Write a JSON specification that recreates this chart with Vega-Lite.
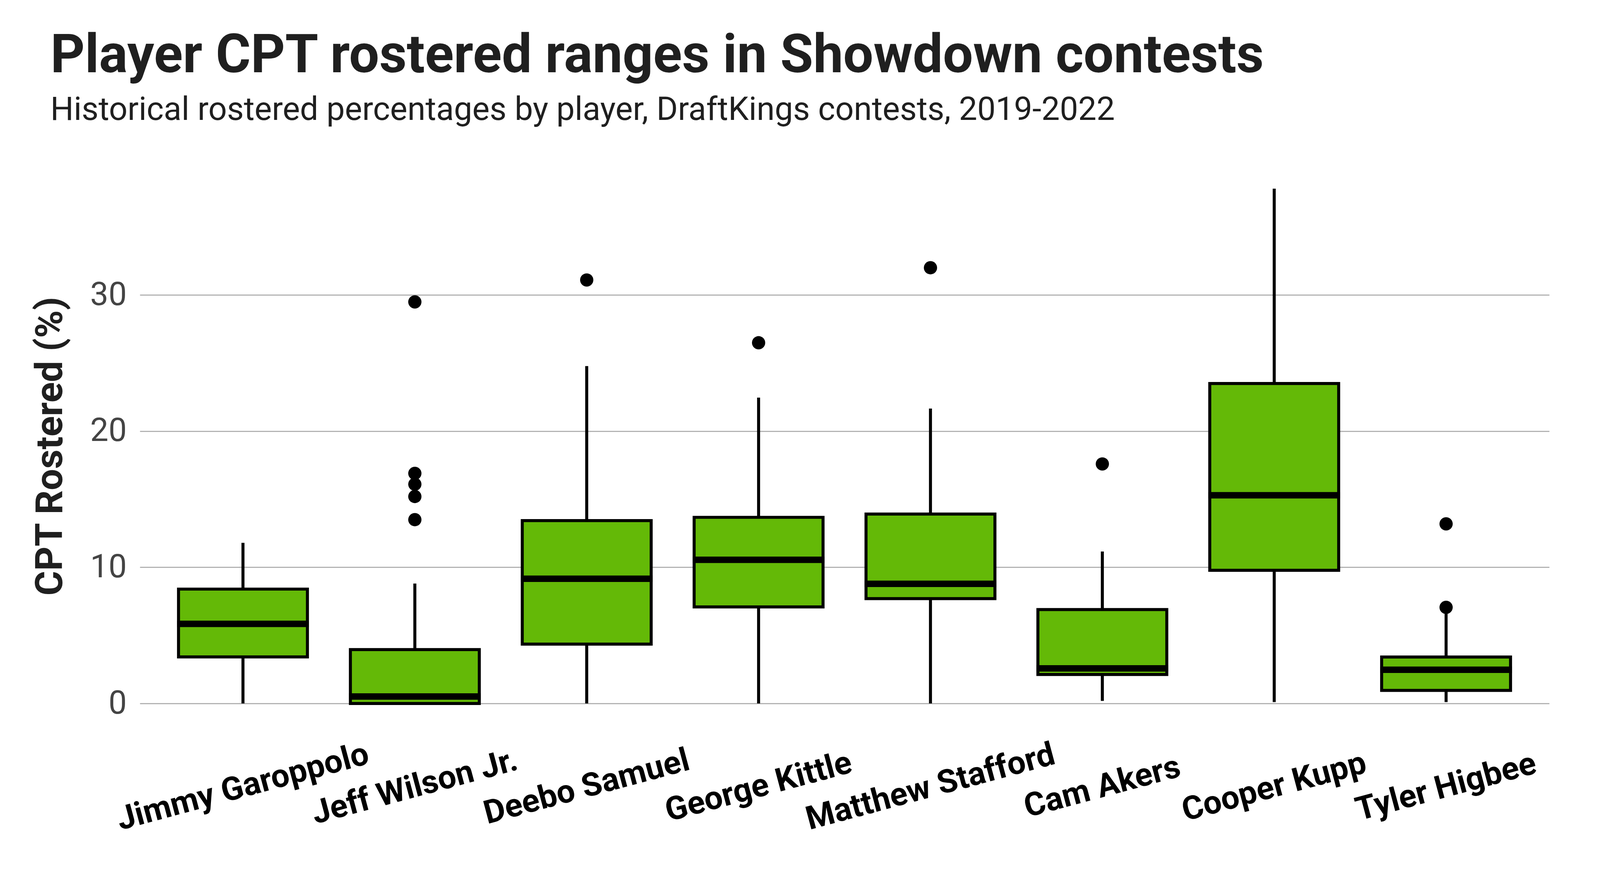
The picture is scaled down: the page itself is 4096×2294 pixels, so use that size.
{
  "$schema": "https://vega.github.io/schema/vega-lite/v6.json",
  "autosize": {"type": "none"},
  "width": 3608,
  "height": 1450,
  "padding": {"left": 358, "top": 417, "right": 130, "bottom": 427},
  "background": "white",
  "title": {
    "text": "Player CPT rostered ranges in Showdown contests",
    "subtitle": "Historical rostered percentages by player, DraftKings contests, 2019-2022",
    "anchor": "start",
    "frame": "group",
    "dx": -229,
    "offset": 91,
    "font": "Roboto",
    "fontSize": 137,
    "fontWeight": "bold",
    "color": "#1f1f1f",
    "subtitleFont": "Roboto",
    "subtitleFontSize": 83.7,
    "subtitleFontWeight": "normal",
    "subtitleColor": "#1f1f1f",
    "subtitlePadding": 27
  },
  "datasets": {
    "stats": [
      {"player": "Jimmy Garoppolo", "lower": 0, "q1": 3.42, "median": 5.85, "q3": 8.4, "upper": 11.8},
      {"player": "Jeff Wilson Jr.", "lower": 0, "q1": 0.0, "median": 0.51, "q3": 3.96, "upper": 8.81},
      {"player": "Deebo Samuel", "lower": 0, "q1": 4.36, "median": 9.16, "q3": 13.43, "upper": 24.78},
      {"player": "George Kittle", "lower": 0, "q1": 7.09, "median": 10.55, "q3": 13.67, "upper": 22.46},
      {"player": "Matthew Stafford", "lower": 0, "q1": 7.7, "median": 8.79, "q3": 13.91, "upper": 21.66},
      {"player": "Cam Akers", "lower": 0.19, "q1": 2.13, "median": 2.58, "q3": 6.9, "upper": 11.16},
      {"player": "Cooper Kupp", "lower": 0.1, "q1": 9.78, "median": 15.29, "q3": 23.5, "upper": 37.81},
      {"player": "Tyler Higbee", "lower": 0.1, "q1": 0.96, "median": 2.48, "q3": 3.41, "upper": 7.0}
    ],
    "outliers": [
      {"player": "Jeff Wilson Jr.", "value": 29.49},
      {"player": "Jeff Wilson Jr.", "value": 16.9},
      {"player": "Jeff Wilson Jr.", "value": 16.1},
      {"player": "Jeff Wilson Jr.", "value": 15.2},
      {"player": "Jeff Wilson Jr.", "value": 13.5},
      {"player": "Deebo Samuel", "value": 31.1},
      {"player": "George Kittle", "value": 26.49},
      {"player": "Matthew Stafford", "value": 32.0},
      {"player": "Cam Akers", "value": 17.59},
      {"player": "Tyler Higbee", "value": 13.19},
      {"player": "Tyler Higbee", "value": 7.06}
    ]
  },
  "encoding": {
    "x": {
      "field": "player",
      "type": "nominal",
      "sort": ["Jimmy Garoppolo", "Jeff Wilson Jr.", "Deebo Samuel", "George Kittle", "Matthew Stafford", "Cam Akers", "Cooper Kupp", "Tyler Higbee"],
      "scale": {"domain": ["Jimmy Garoppolo", "Jeff Wilson Jr.", "Deebo Samuel", "George Kittle", "Matthew Stafford", "Cam Akers", "Cooper Kupp", "Tyler Higbee"], "paddingInner": 0, "paddingOuter": 0.1},
      "axis": {
        "title": null,
        "domain": false,
        "ticks": false,
        "grid": false,
        "labelAngle": -15,
        "labelAlign": "center",
        "labelBaseline": "middle",
        "labelPadding": 148,
        "labelFont": "Roboto",
        "labelFontSize": 83.4,
        "labelFontWeight": "bold",
        "labelColor": "#000000",
        "labelLimit": 3000,
        "labelOverlap": false
      }
    }
  },
  "layer": [
    {
      "data": {"name": "stats"},
      "mark": {"type": "rule", "color": "#000000", "strokeWidth": 7.7},
      "encoding": {
        "y": {
          "field": "lower",
          "type": "quantitative",
          "scale": {"domain": [-1.89, 39.7], "nice": false, "zero": false},
          "axis": {
            "title": "CPT Rostered (%)",
            "values": [0, 10, 20, 30],
            "domain": false,
            "ticks": false,
            "grid": true,
            "gridColor": "#b3b3b3",
            "gridWidth": 3,
            "labelFont": "Roboto",
            "labelFontSize": 83.4,
            "labelColor": "#444444",
            "labelPadding": 34,
            "titleFont": "Roboto",
            "titleFontSize": 97,
            "titleFontWeight": "bold",
            "titleColor": "#1f1f1f",
            "titleAngle": -90,
            "titleAlign": "center",
            "titleBaseline": "alphabetic",
            "titleX": -200,
            "titleY": 725
          }
        },
        "y2": {"field": "upper"}
      }
    },
    {
      "data": {"name": "stats"},
      "mark": {"type": "bar", "fill": "#64b907", "stroke": "#000000", "strokeWidth": 7.7, "width": {"band": 0.75}},
      "encoding": {
        "y": {"field": "q1", "type": "quantitative"},
        "y2": {"field": "q3"}
      }
    },
    {
      "data": {"name": "stats"},
      "mark": {"type": "tick", "color": "#000000", "orient": "horizontal", "size": 337, "thickness": 16.5, "opacity": 1},
      "encoding": {
        "y": {"field": "median", "type": "quantitative"}
      }
    },
    {
      "data": {"name": "outliers"},
      "mark": {"type": "point", "shape": "circle", "filled": true, "color": "#000000", "opacity": 1, "size": 1150},
      "encoding": {
        "y": {"field": "value", "type": "quantitative"}
      }
    }
  ],
  "config": {
    "view": {"stroke": null},
    "font": "Roboto"
  }
}
